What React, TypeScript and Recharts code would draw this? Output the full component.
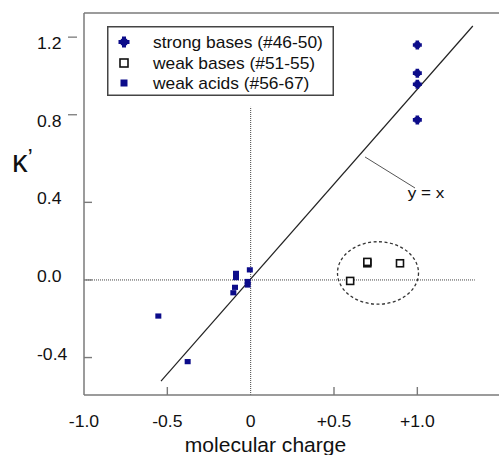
import React from 'react';
import { ScatterChart, Scatter, XAxis, YAxis, ReferenceLine, ReferenceDot, Legend } from 'recharts';

// ---- data ----
const strongBases = [
  { x: 1.0, y: 1.211 },
  { x: 1.0, y: 1.066 },
  { x: 1.0, y: 1.009 },
  { x: 1.0, y: 0.825 },
];
const weakBases = [
  { x: 0.597, y: -0.005 },
  { x: 0.7, y: 0.086 },
  { x: 0.7, y: 0.093 },
  { x: 0.896, y: 0.086 },
];
const weakAcids = [
  { x: -0.554, y: -0.186 },
  { x: -0.378, y: -0.421 },
  { x: -0.088, y: 0.034 },
  { x: -0.088, y: 0.012 },
  { x: -0.094, y: -0.038 },
  { x: -0.104, y: -0.066 },
  { x: -0.005, y: 0.052 },
  { x: -0.018, y: -0.008 },
  { x: -0.018, y: -0.026 },
];
const seriesNames = ['strong bases (#46-50)', 'weak bases (#51-55)', 'weak acids (#56-67)'];
const xTicks = [-1.0, -0.5, 0, 0.5, 1.0];
const xTickLabels = ['-1.0', '-0.5', '0', '+0.5', '+1.0'];
const yTicks = [1.2, 0.8, 0.4, 0.0, -0.4];
const yTickLabels = ['1.2', '0.8', '0.4', '0.0', '-0.4'];
const identityLine = [{ x: -0.538, y: -0.521 }, { x: 1.333, y: 1.309 }];
const leaderLine = [{ x: 0.686, y: 0.634 }, { x: 0.986, y: 0.474 }];
const identityLabel = { x: 1.052, y: 0.423, text: 'y = x' };
const ellipse = { cx: 0.764, cy: 0.036, rx: 0.243, ry: 0.161 };
const zeroH = [{ x: -1.0, y: 0 }, { x: 1.345, y: 0 }];
const zeroV = [{ x: 0, y: -0.593 }, { x: 0, y: 0.892 }];

// ---- layout ----
const W = 499;
const H = 455;
const X_MIN = -1.0, X_MAX = 1.49;
const Y_MIN = -0.593, Y_MAX = 1.376;
const MARGIN = { top: 13, right: 0, bottom: 0, left: 24 };
const YAXIS_W = 60;
const XAXIS_H = 60;
const PLOT_W = W - MARGIN.left - MARGIN.right - YAXIS_W;
const PLOT_H = H - MARGIN.top - MARGIN.bottom - XAXIS_H;
const PX_X = PLOT_W / (X_MAX - X_MIN);
const PX_Y = PLOT_H / (Y_MAX - Y_MIN);

const NAVY = '#0c0c8a';
const FRAME = '#7a7a7a';
const FONT = '"Liberation Sans", Arial, Helvetica, sans-serif';
const SX = 1.1;

const SText = ({ x, y, size, anchor = 'start', children, sx = SX, family = FONT }: any) => (
  <text
    transform={`translate(${x} ${y}) scale(${sx} 1)`}
    x={0}
    y={0}
    fontSize={size}
    fontFamily={family}
    textAnchor={anchor}
    fill="#111"
  >
    {children}
  </text>
);

// fat plus merged with a diamond
const crossPath = (cx: number, cy: number, o: number, a: number) =>
  `M${cx - o},${cy - a} L${cx - a},${cy - a} L${cx - a},${cy - o} L${cx + a},${cy - o} L${cx + a},${cy - a} L${cx + o},${cy - a} L${cx + o},${cy + a} L${cx + a},${cy + a} L${cx + a},${cy + o} L${cx - a},${cy + o} L${cx - a},${cy + a} L${cx - o},${cy + a} Z`;

const CrossShape = (p: any) => (
  <g>
    <path d={crossPath(p.cx, p.cy, 4.5, 1.8)} fill={NAVY} />
    <rect x={p.cx - 2.8} y={p.cy - 2.8} width={5.6} height={5.6} fill={NAVY} />
  </g>
);
const OpenSquare = (p: any) => (
  <rect x={p.cx - 3.5} y={p.cy - 3.5} width={7} height={7} fill="#fff" stroke="#111" strokeWidth={1.6} />
);
const FilledSquare = (p: any) => (
  <rect x={p.cx - 3} y={p.cy - 2.6} width={6} height={5.2} fill={NAVY} />
);

const XTick = (props: any) => {
  const { x, y, payload } = props;
  const idx = xTicks.indexOf(payload.value);
  const label = idx >= 0 ? xTickLabels[idx] : String(payload.value);
  const showMark = payload.value !== X_MIN && payload.value !== 0;
  return (
    <g>
      {showMark && <line x1={x} x2={x} y1={y} y2={y - 8} stroke={FRAME} strokeWidth={1.4} />}
      <SText x={x} y={y + 32} size={16} anchor="middle">{label}</SText>
    </g>
  );
};

const YTick = (props: any) => {
  const { x, y, payload } = props;
  const idx = yTicks.indexOf(payload.value);
  const label = idx >= 0 ? yTickLabels[idx] : String(payload.value);
  const high = payload.value >= 0.8;
  return (
    <g>
      {high ? (
        <line x1={x - 16} x2={x - 7} y1={y - 10} y2={y - 10} stroke={FRAME} strokeWidth={1.3} />
      ) : (
        <line x1={x} x2={x + 8} y1={y} y2={y} stroke={FRAME} strokeWidth={1.4} />
      )}
      <SText x={x - 47} y={y + 2} size={16} anchor="start">{label}</SText>
    </g>
  );
};

const XTitle = (props: any) => {
  const vb = props.viewBox || { x: 0, y: 0, width: 0, height: 0 };
  return (
    <SText x={vb.x + vb.width / 2 - 26} y={vb.y + 57} size={19.5} anchor="middle" sx={1.08}>
      molecular charge
    </SText>
  );
};

const YTitle = (props: any) => {
  const vb = props.viewBox || { x: 0, y: 0, width: 0, height: 0 };
  return (
    <text x={vb.x - 12} y={vb.y + 159} fontSize={31} fontFamily={FONT} fill="#111">
      κ<tspan dx={0} dy={-6} fontSize={24}>’</tspan>
    </text>
  );
};

const LegendBox = () => {
  const rows = [
    (cx: number, cy: number) => (
      <g>
        <path d={crossPath(cx, cy, 5.5, 2)} fill={NAVY} />
        <rect x={cx - 3.2} y={cy - 3.2} width={6.4} height={6.4} fill={NAVY} />
      </g>
    ),
    (cx: number, cy: number) => (
      <rect x={cx - 4} y={cy - 4} width={8} height={8} fill="#fff" stroke="#111" strokeWidth={1.6} />
    ),
    (cx: number, cy: number) => <rect x={cx - 3.5} y={cy - 3.5} width={7} height={7} fill={NAVY} />,
  ];
  const ys = [16, 37, 57];
  return (
    <svg width={227} height={70} style={{ display: 'block' }}>
      <rect x={0.75} y={0.75} width={225.5} height={68.5} fill="#fff" stroke="#444" strokeWidth={1.5} />
      {seriesNames.map((n, i) => (
        <g key={n}>
          {rows[i](17, ys[i])}
          <SText x={46} y={ys[i] + 5.5} size={15.8}>{n}</SText>
        </g>
      ))}
    </svg>
  );
};

export default function App() {
  return (
    <div style={{ position: 'absolute', left: 0, top: 0, width: W, height: H, background: '#fff' }}>
      <ScatterChart width={W} height={H} margin={MARGIN}>
        <XAxis
          type="number"
          dataKey="x"
          domain={[X_MIN, X_MAX]}
          ticks={xTicks}
          allowDataOverflow
          height={XAXIS_H}
          tickSize={0}
          tickMargin={0}
          tickLine={false}
          tick={<XTick />}
          axisLine={{ stroke: FRAME, strokeWidth: 1.5 }}
          label={<XTitle />}
          interval={0}
        />
        <YAxis
          type="number"
          dataKey="y"
          domain={[Y_MIN, Y_MAX]}
          ticks={yTicks}
          allowDataOverflow
          width={YAXIS_W}
          tickSize={0}
          tickMargin={0}
          tickLine={false}
          tick={<YTick />}
          axisLine={{ stroke: FRAME, strokeWidth: 1.5 }}
          label={<YTitle />}
          interval={0}
        />
        <ReferenceLine y={Y_MAX} stroke={FRAME} strokeWidth={1.5} ifOverflow="visible" />
        <ReferenceLine segment={zeroH} stroke="#444" strokeWidth={1} strokeDasharray="1 1" ifOverflow="visible" />
        <ReferenceLine segment={zeroV} stroke="#444" strokeWidth={1} strokeDasharray="1 1" ifOverflow="visible" />
        <ReferenceLine segment={identityLine} stroke="#222" strokeWidth={1.2} ifOverflow="visible" />
        <ReferenceLine segment={leaderLine} stroke="#555" strokeWidth={1} ifOverflow="visible" />
        <ReferenceDot
          x={ellipse.cx}
          y={ellipse.cy}
          r={1}
          ifOverflow="visible"
          shape={(p: any) => (
            <ellipse
              cx={p.cx}
              cy={p.cy}
              rx={ellipse.rx * PX_X}
              ry={ellipse.ry * PX_Y}
              fill="none"
              stroke="#333"
              strokeWidth={1.3}
              strokeDasharray="3 2.5"
            />
          )}
        />
        <ReferenceDot
          x={identityLabel.x}
          y={identityLabel.y}
          r={1}
          ifOverflow="visible"
          shape={(p: any) => (
            <SText x={p.cx} y={p.cy} size={15.5} anchor="middle">{identityLabel.text}</SText>
          )}
        />
        <Scatter name={seriesNames[0]} data={strongBases} shape={CrossShape} isAnimationActive={false} />
        <Scatter name={seriesNames[1]} data={weakBases} shape={OpenSquare} isAnimationActive={false} />
        <Scatter name={seriesNames[2]} data={weakAcids} shape={FilledSquare} isAnimationActive={false} />
        <Legend
          layout="horizontal"
          verticalAlign="middle"
          align="center"
          content={<LegendBox />}
          wrapperStyle={{ position: 'absolute', left: 107, top: 26, width: 227, height: 70 }}
        />
      </ScatterChart>
    </div>
  );
}
